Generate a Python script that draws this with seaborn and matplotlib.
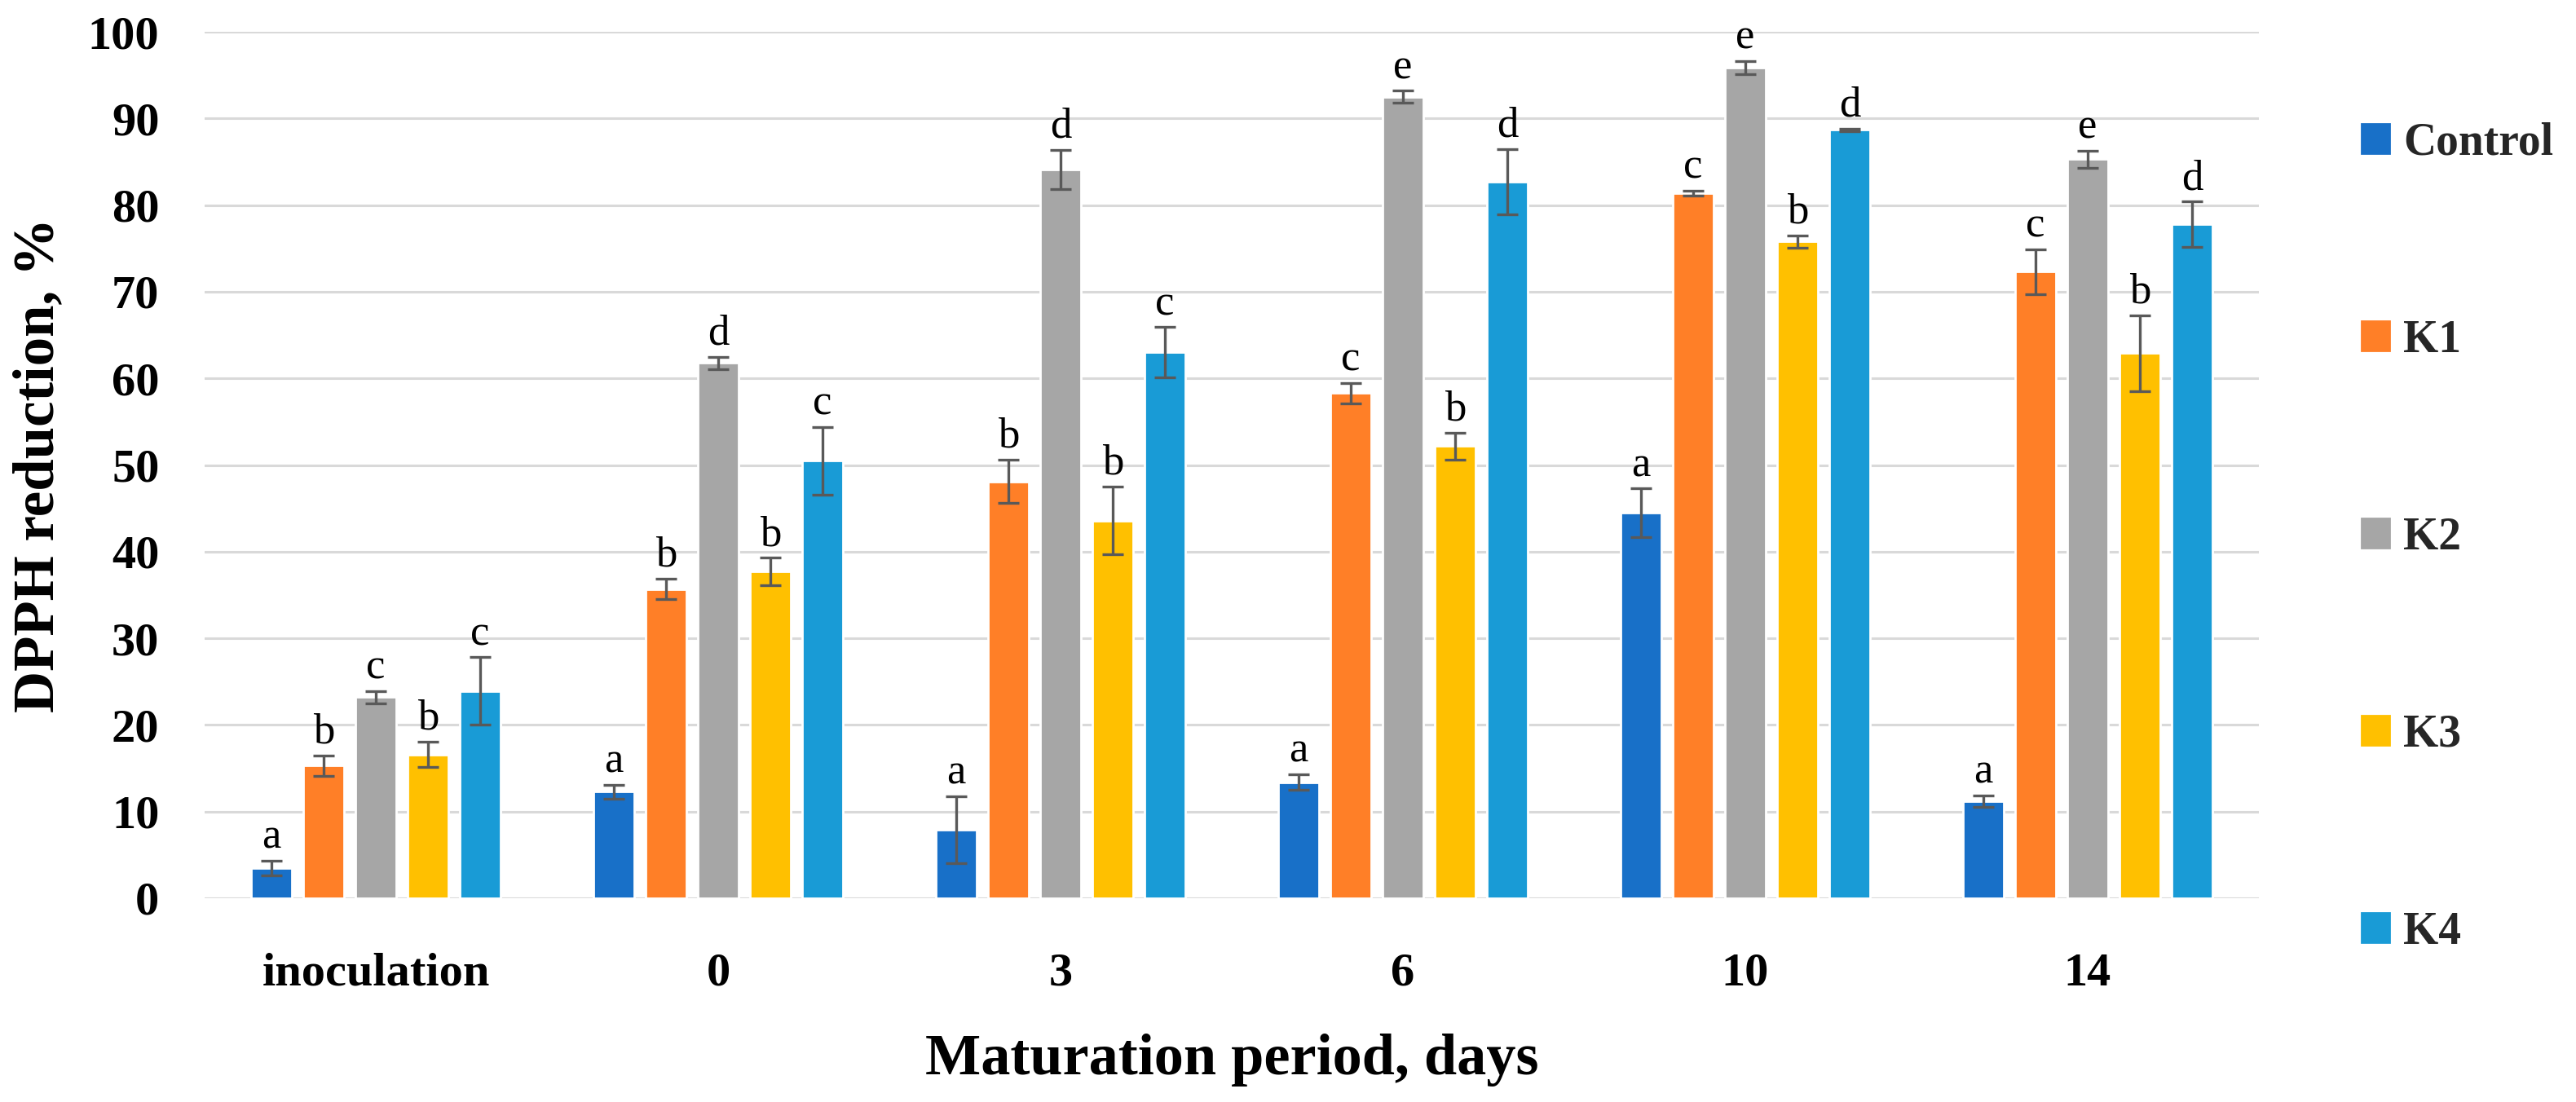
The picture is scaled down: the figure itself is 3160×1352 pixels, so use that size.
import numpy as np
import pandas as pd
import matplotlib
matplotlib.use("Agg")
import matplotlib.pyplot as plt
import seaborn as sns

# ---------------- data ----------------
periods = ["inoculation", "0", "3", "6", "10", "14"]
series = ["Control", "K1", "K2", "K3", "K4"]

control = [3.5, 12.3, 7.9, 13.4, 44.5, 11.2]
k1 = [15.3, 35.7, 48.1, 58.3, 81.4, 72.3]
k2 = [23.2, 61.8, 84.1, 92.5, 95.9, 85.3]
k3 = [16.6, 37.7, 43.6, 52.2, 75.8, 62.9]
k4 = [23.9, 50.5, 63.0, 82.7, 88.7, 77.8]

control_err = [0.85, 0.8, 3.9, 0.9, 2.8, 0.7]
k1_err = [1.2, 1.2, 2.5, 1.2, 0.3, 2.6]
k2_err = [0.7, 0.7, 2.3, 0.7, 0.75, 1.0]
k3_err = [1.5, 1.6, 3.9, 1.55, 0.7, 4.4]
k4_err = [3.9, 3.9, 2.9, 3.8, 0.15, 2.6]

control_let = ["a", "a", "a", "a", "a", "a"]
k1_let = ["b", "b", "b", "c", "c", "c"]
k2_let = ["c", "d", "d", "e", "e", "e"]
k3_let = ["b", "b", "b", "b", "b", "b"]
k4_let = ["c", "c", "c", "d", "d", "d"]

colors = ["#1870C8", "#FF7F27", "#A6A6A6", "#FFC000", "#199BD6"]

values = [control, k1, k2, k3, k4]
errors = [control_err, k1_err, k2_err, k3_err, k4_err]
letters = [control_let, k1_let, k2_let, k3_let, k4_let]

rows = []
for s, vals in zip(series, values):
    for p, v in zip(periods, vals):
        rows.append({"period": p, "series": s, "value": v})
df = pd.DataFrame(rows)

# ---------------- style ----------------
sns.set_style("white")
plt.rcParams["font.family"] = ["Liberation Serif", "DejaVu Serif"]

W, H, DPI = 3160, 1352, 200
fig = plt.figure(figsize=(W / DPI, H / DPI), dpi=DPI)
ax = fig.add_axes([251 / W, 1 - 1102 / H, (2771 - 251) / W, (1102 - 39) / H])

sns.barplot(data=df, x="period", y="value", hue="series", order=periods,
            hue_order=series, palette=colors, width=0.762, gap=0.22,
            errorbar=None, saturation=1, ax=ax, legend=False, zorder=2)

bar_containers = list(ax.containers)

# error bars and letters
for ci, cont in enumerate(bar_containers):
    for bi, bar in enumerate(cont.patches):
        xc = bar.get_x() + bar.get_width() / 2
        h = bar.get_height()
        e = errors[ci][bi]
        ax.errorbar(xc, h, yerr=e, fmt="none", ecolor="#595959",
                    elinewidth=1.2, capsize=4.7, capthick=1.2, zorder=3)
        ax.annotate(letters[ci][bi], (xc, h + e), xytext=(0, 1.5),
                    textcoords="offset points", ha="center", va="bottom",
                    fontsize=19, color="black", zorder=4)

ax.set_ylim(0, 100)
ax.set_xlim(-0.5, len(periods) - 0.5)
ax.set_yticks(np.arange(0, 101, 10))
ax.yaxis.grid(True, color="#D9D9D9", linewidth=1.1, zorder=0)
ax.xaxis.grid(False)
ax.set_axisbelow(True)
for sp in ax.spines.values():
    sp.set_visible(False)
ax.tick_params(axis="both", length=0)
ax.tick_params(axis="x", pad=24)
ax.tick_params(axis="y", pad=20)
for lab in ax.get_xticklabels() + ax.get_yticklabels():
    lab.set_fontsize(21)
    lab.set_fontweight("bold")
    lab.set_color("black")

ax.set_xlabel("Maturation period, days", fontsize=26, fontweight="bold",
              labelpad=17, color="black")
ax.set_ylabel("DPPH reduction, %", fontsize=25.5, fontweight="bold",
              color="black")
ax.yaxis.set_label_coords((80 - 251) / (2771 - 251), 0.5)

handles = [plt.Rectangle((0, 0), 1, 1, color=c) for c in colors]
fig.legend(handles, series, loc="upper left",
           bbox_to_anchor=(2897 / W, 1 - 150 / H), frameon=False,
           prop={"size": 20, "weight": "bold"}, handlelength=0.62,
           handleheight=0.62, handletextpad=0.3, labelspacing=3.42,
           borderpad=0, borderaxespad=0)

fig.savefig("out.png", dpi=DPI, facecolor="white")
